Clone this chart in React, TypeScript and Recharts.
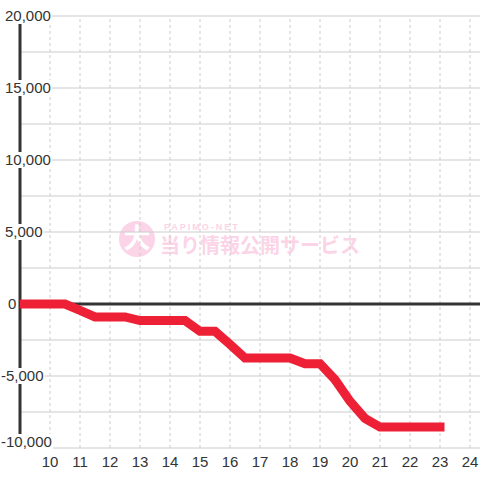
import React from 'react';
import { LineChart, Line, XAxis, YAxis, ReferenceLine } from 'recharts';

const hours = [9, 9.5, 10, 10.5, 11, 11.5, 12, 12.5, 13, 13.5, 14, 14.5, 15, 15.5, 16, 16.5, 17, 17.5, 18, 18.5, 19, 19.5, 20, 20.5, 21, 21.5, 22, 22.5, 23];
const balance = [0, 0, 0, 0, -450, -900, -900, -900, -1150, -1150, -1150, -1150, -1900, -1900, -2800, -3750, -3750, -3750, -3750, -4150, -4150, -5250, -6750, -7950, -8550, -8550, -8550, -8550, -8550];
const hourTicks = [10, 11, 12, 13, 14, 15, 16, 17, 18, 19, 20, 21, 22, 23, 24];
const labelTicks = [-10000, -5000, 0, 5000, 10000, 15000, 20000];
const gridTicks = [-10000, -7500, -5000, -2500, 2500, 5000, 7500, 10000, 12500, 15000, 17500, 20000];

const data = hours.map((h, i) => ({ h, v: balance[i] }));

const FONT = '"Liberation Sans", Arial, sans-serif';

// rough Arial widths at 15px
const textWidth = (s: string) =>
    s.split('').reduce((w, c) => w + (c === ',' ? 4.2 : c === '-' ? 5 : 8.35), 0);

const YTick = (props: any) => {
    const { payload } = props;
    const v = payload.value as number;
    // bottom label is nudged up so it clears the hour labels
    const y = v === labelTicks[0] ? props.y - 6 : props.y;
    const label = v.toLocaleString('en-US');
    const tx = v < 0 ? 1 : v === 0 ? 8 : 5;
    const w = textWidth(label);
    return (
        <g>
            <rect x={tx} y={y - 8} width={w + 1} height={16} fill="#fff" />
            <text x={tx} y={y} dy="0.35em" textAnchor="start" fill="#333" fontSize={15} fontFamily={FONT}>
                {label}
            </text>
        </g>
    );
};

const Watermark = () => (
    <svg width={480} height={480} style={{ position: 'absolute', left: 0, top: 0 }}>
        <circle cx={137} cy={239} r={18} fill="#fcd4e7" />
        <text x={137} y={248} textAnchor="middle" fill="#fff" fontSize={27} fontWeight="bold"
            fontFamily='"Noto Sans CJK JP", sans-serif'>大</text>
        <text x={164} y={230} fill="#fcd4e7" fontSize={9} fontWeight="bold" letterSpacing={2}
            fontFamily={FONT}>PAPIMO-NET</text>
        <text x={160} y={253} fill="#fcd4e7" fontSize={20} fontWeight="bold"
            fontFamily='"Noto Sans CJK JP", sans-serif'>当り情報公開サービス</text>
    </svg>
);

const App: React.FC = () => {
    return (
        <div style={{ position: 'absolute', left: 0, top: 0, width: 480, height: 480, background: '#fff' }}>
            <Watermark />
            <div style={{ position: 'absolute', left: 0, top: 0 }}>
                <LineChart width={480} height={480} data={data} margin={{ top: 16, right: 0, bottom: 0, left: 0 }}>
                    {gridTicks.map((t) => (
                        <ReferenceLine key={'gy' + t} y={t} stroke="#cccccc" strokeWidth={1} zIndex={-100} />
                    ))}
                    {hourTicks.map((t) => (
                        <ReferenceLine key={'gx' + t} x={t} stroke="#cccccc" strokeWidth={1}
                            strokeDasharray="3 3" zIndex={-100} />
                    ))}
                    <ReferenceLine y={0} stroke="#333" strokeWidth={3} zIndex={-50} />
                    <XAxis
                        dataKey="h"
                        type="number"
                        domain={[9, 24.333]}
                        ticks={hourTicks}
                        allowDataOverflow
                        height={32}
                        axisLine={false}
                        tickLine={false}
                        tick={{ fill: '#333', fontSize: 15, fontFamily: FONT }}
                    />
                    <YAxis
                        width={20}
                        domain={[-10000, 20000]}
                        ticks={labelTicks}
                        allowDataOverflow
                        axisLine={{ stroke: '#333', strokeWidth: 3 }}
                        tickLine={false}
                        tick={<YTick />}
                    />
                    <Line
                        dataKey="v"
                        stroke="#ee2035"
                        strokeWidth={9}
                        strokeLinecap="square"
                        strokeLinejoin="miter"
                        dot={false}
                        type="linear"
                        zIndex={600}
                        isAnimationActive={false}
                    />
                </LineChart>
            </div>
        </div>
    );
};

export default App;
